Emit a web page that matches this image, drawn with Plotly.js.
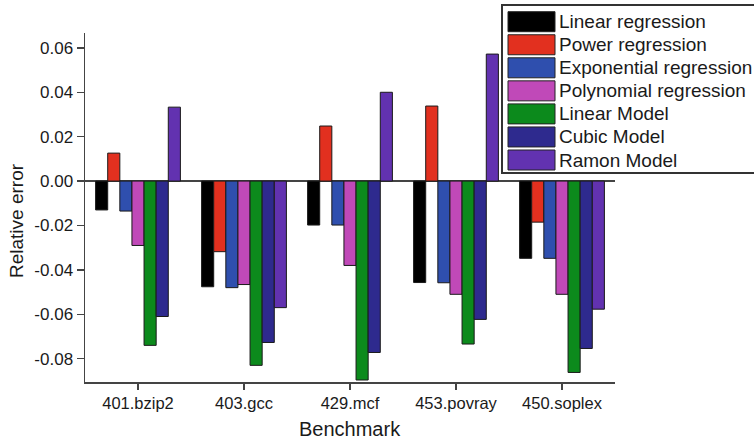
<!DOCTYPE html>
<html>
<head>
<meta charset="utf-8">
<script src="https://cdn.plot.ly/plotly-3.0.1.min.js"></script>
<style>html,body{margin:0;padding:0;background:#fff;}#chart{width:754px;height:441px;}</style>
</head>
<body>
<div id="chart"></div>
<script>
// ---- data ----
const benchmarks = ["401.bzip2", "403.gcc", "429.mcf", "453.povray", "450.soplex"];
const seriesNames = ["Linear regression", "Power regression", "Exponential regression",
  "Polynomial regression", "Linear Model", "Cubic Model", "Ramon Model"];
const linearRegression      = [-0.0130, -0.0476, -0.0198, -0.0457, -0.0348];
const powerRegression       = [ 0.0126, -0.0318,  0.0248,  0.0338, -0.0185];
const exponentialRegression = [-0.0135, -0.0480, -0.0198, -0.0458, -0.0348];
const polynomialRegression  = [-0.0290, -0.0466, -0.0380, -0.0510, -0.0510];
const linearModel           = [-0.0740, -0.0830, -0.0896, -0.0734, -0.0862];
const cubicModel            = [-0.0610, -0.0727, -0.0772, -0.0623, -0.0754];
const ramonModel            = [ 0.0333, -0.0570,  0.0400,  0.0572, -0.0577];
const yTickVals = [-0.08, -0.06, -0.04, -0.02, 0.00, 0.02, 0.04, 0.06];
const yTickText = ["-0.08", "-0.06", "-0.04", "-0.02", "0.00", "0.02", "0.04", "0.06"];

// ---- style ----
const seriesValues = [linearRegression, powerRegression, exponentialRegression,
  polynomialRegression, linearModel, cubicModel, ramonModel];
const colors = ["#000000", "#e2301f", "#2f4fae", "#c049b8", "#0c8a1c", "#2e2a8e", "#6232b0"];
const FONT = "Liberation Sans, Arial, Helvetica, sans-serif";
const W = 754, H = 441;
const M = {l: 85, r: 139, t: 33, b: 59};
const pw = W - M.l - M.r, ph = H - M.t - M.b;
const px = x => (x - M.l) / pw;
const py = y => (H - M.b - y) / ph;

const traces = seriesNames.map((name, i) => ({
  type: "bar",
  name: name,
  x: benchmarks,
  y: seriesValues[i],
  marker: {color: colors[i], line: {color: "#1a1a1a", width: 1}},
  showlegend: false,
  hoverinfo: "x+y+name"
}));

const shapes = [];
const annotations = [];
// legend box
shapes.push({type: "rect", xref: "paper", yref: "paper",
  x0: px(502), x1: px(757), y0: py(173), y1: py(5),
  line: {color: "#333", width: 2}, fillcolor: "#fff", layer: "above"});
seriesNames.forEach((name, i) => {
  const cy = 21.7 + i * 23.05;
  shapes.push({type: "rect", xref: "paper", yref: "paper",
    x0: px(508), x1: px(555), y0: py(cy + 10), y1: py(cy - 10),
    line: {color: "#222", width: 1}, fillcolor: colors[i], layer: "above"});
  annotations.push({xref: "paper", yref: "paper", x: px(557), y: py(cy),
    xanchor: "left", yanchor: "middle", showarrow: false, text: name,
    font: {family: FONT, size: 19, color: "#1a1a1a"}});
});
// axis titles
annotations.push({xref: "paper", yref: "paper", x: px(16), y: py(221),
  xanchor: "center", yanchor: "middle", showarrow: false, textangle: -90,
  text: "Relative error", font: {family: FONT, size: 19, color: "#1a1a1a"}});
annotations.push({xref: "paper", yref: "paper", x: px(350), y: py(429),
  xanchor: "center", yanchor: "middle", showarrow: false,
  text: "Benchmark", font: {family: FONT, size: 20, color: "#1a1a1a"}});

const layout = {
  width: W, height: H,
  margin: M,
  paper_bgcolor: "#fff", plot_bgcolor: "#fff",
  barmode: "group", bargap: 0.2, bargroupgap: 0,
  font: {family: FONT, color: "#1a1a1a"},
  xaxis: {
    type: "category", range: [-0.5, 4.5],
    showline: true, linecolor: "#444", linewidth: 1.5,
    ticks: "outside", ticklen: 6, tickwidth: 1.5, tickcolor: "#444",
    showgrid: false, zeroline: false,
    tickfont: {family: FONT, size: 16.5, color: "#1a1a1a"}
  },
  yaxis: {
    range: [-0.0905, 0.0667],
    tickvals: yTickVals, ticktext: yTickText,
    showline: true, linecolor: "#444", linewidth: 1.5,
    ticks: "outside", ticklen: 7, tickwidth: 1.5, tickcolor: "#444",
    showgrid: false, zeroline: true, zerolinecolor: "#444", zerolinewidth: 1.5,
    tickfont: {family: FONT, size: 17, color: "#1a1a1a"}
  },
  shapes: shapes,
  annotations: annotations
};

Plotly.newPlot("chart", traces, layout, {displayModeBar: false, staticPlot: true});
</script>
</body>
</html>
